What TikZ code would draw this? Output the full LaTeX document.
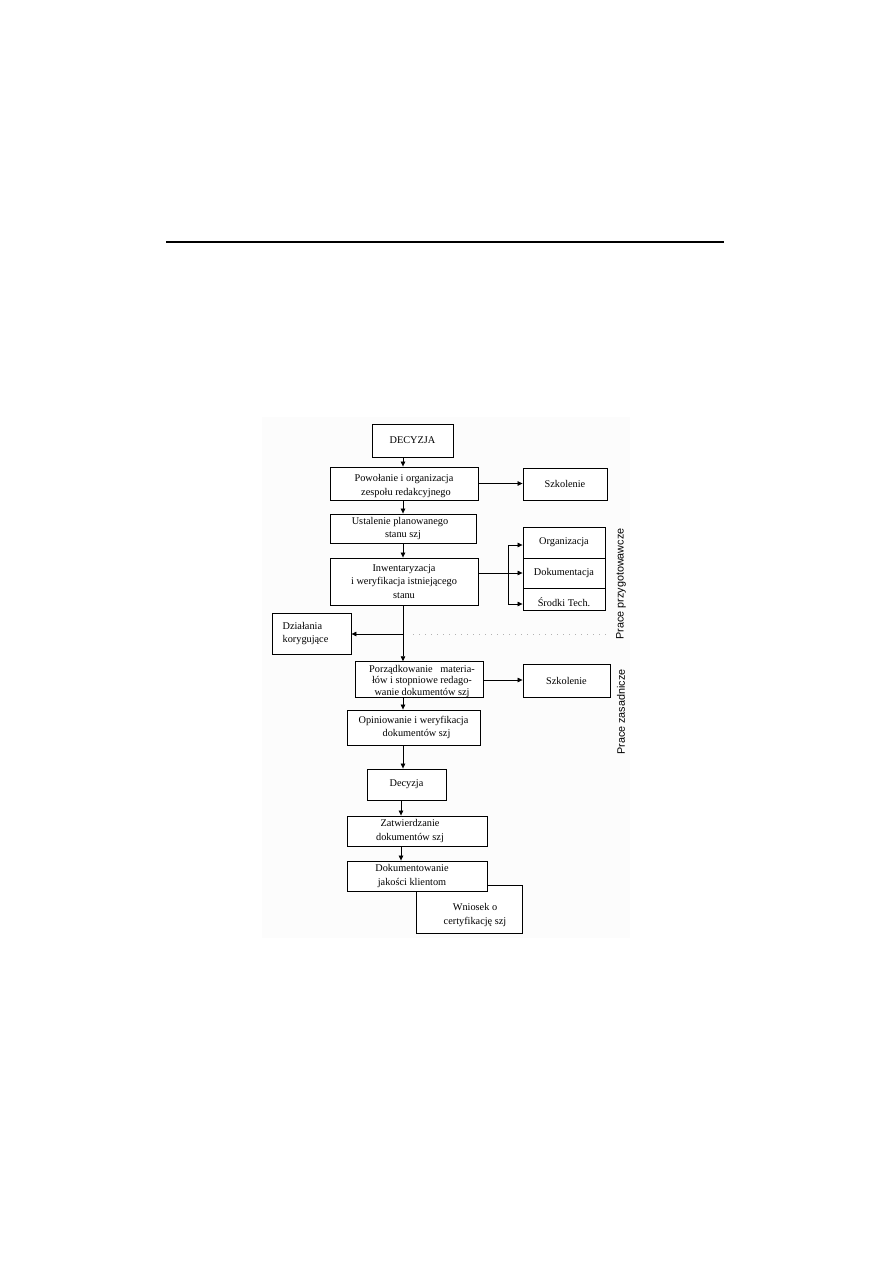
\documentclass[tikz,border=0pt]{standalone}
\usepackage{fontspec}
\setmainfont{Liberation Serif}
\setsansfont{Liberation Sans}
\usetikzlibrary{arrows.meta,calc}
\newcommand{\lowr}[1]{\rule{0pt}{#1}}
\begin{document}
\begin{tikzpicture}[x=1pt,y=-1pt,
  box/.style={draw,line width=0.9pt,rectangle,inner sep=0pt,fill=white,
    font=\fontsize{10.3}{13.8}\selectfont,align=center},
  arr/.style={line width=0.7pt,-{Triangle[length=5pt,width=4.5pt]}},
  ln/.style={line width=0.7pt},
  side/.style={font=\sffamily\fontsize{10.8}{12}\selectfont,rotate=90}]
\useasboundingbox (0,0) rectangle (893,1263);
\fill[black!1] (262,417) rectangle (630,938);
\draw[line width=1.3pt] (166,242) -- (724,242);
\coordinate (sp) at (403,0);
\coordinate (sp2) at (401,0);
% boxes
\node[box,minimum width=81pt,minimum height=33pt] (dec) at (412.5,440.5) {DECYZJA};
\node[box,minimum width=148pt,minimum height=33pt] (pow) at (404,483.5) {\lowr{13pt}Powołanie i organizacja\\\hspace*{4pt}zespołu redakcyjnego};
\node[box,minimum width=84pt,minimum height=32pt] (szk1) at (565,484) {Szkolenie};
\node[box,minimum width=146pt,minimum height=29pt] (ust) at (403,528.5) {\hspace*{-6pt}Ustalenie planowanego\\stanu szj};
\node[box,minimum width=148pt,minimum height=47pt] (inw) at (404,581.5) {Inwentaryzacja\\i weryfikacja istniejącego\\stanu};
\node[box,minimum width=82pt,minimum height=31pt] (org) at (564,542.5) {Organizacja};
\node[box,minimum width=82pt,minimum height=30pt] (dok) at (564,573) {Dokumentacja};
\node[box,minimum width=82pt,minimum height=22pt] (srt) at (564,599) {\lowr{15pt}Środki Tech.};
\node[box,minimum width=79pt,minimum height=41pt,align=left] (dz) at (311.5,633.5) {Działania\\korygujące\hspace*{12pt}};
\node[box,minimum width=128pt,minimum height=35pt,font=\fontsize{10.3}{11.2}\selectfont] (por) at (419,679.5) {\lowr{11pt}\hspace*{6pt}Porządkowanie\ \ \ materia-\\\hspace*{6pt}łów i stopniowe redago-\\\hspace*{6pt}wanie dokumentów szj};
\node[box,minimum width=87pt,minimum height=33pt] (szk2) at (566.5,680.5) {Szkolenie};
\node[box,minimum width=133pt,minimum height=35pt] (opi) at (413.5,727.5) {Opiniowanie i weryfikacja\\\hspace*{6pt}dokumentów szj};
\node[box,minimum width=79pt,minimum height=31pt] (dec2) at (406.5,784.5) {Decyzja};
\node[box,minimum width=140pt,minimum height=30pt] (zat) at (417,831) {Zatwierdzanie\hspace*{14pt}\\dokumentów szj\hspace*{14pt}};
\node[box,minimum width=106pt,minimum height=48pt] (wn) at (469,909) {\lowr{19pt}\hspace*{12pt}Wniosek o\\\hspace*{12pt}certyfikację szj};
\node[box,minimum width=140pt,minimum height=30pt] (dkm) at (417,876) {Dokumentowanie\hspace*{10pt}\\jakości klientom\hspace*{10pt}};
% side labels
\node[side] (lab1) at (621,584) {Prace przygotowawcze};
\node[side] (lab2) at (621,712) {Prace zasadnicze};
% spine connectors
\draw[arr] (dec.south -| sp) -- (pow.north -| sp);
\draw[arr] (pow.south -| sp) -- (ust.north -| sp);
\draw[arr] (ust.south -| sp) -- (inw.north -| sp);
\coordinate (br) at (403,634);
\coordinate (dotend) at (610,634);
\draw[ln] (inw.south -| sp) -- (br);
\draw[arr] (br) -- (por.north -| sp);
\draw[arr] (br) -- (dz.east |- br);
\draw[black!30,line width=0.5pt,dash pattern=on 1pt off 5pt] ($(br)+(10,0)$) -- (dotend);
\draw[arr] (por.south -| sp) -- (opi.north -| sp);
\draw[arr] (opi.south -| sp) -- (dec2.north -| sp);
\draw[arr] (dec2.south -| sp2) -- (zat.north -| sp2);
\draw[arr] (zat.south -| sp2) -- (dkm.north -| sp2);
% side connectors
\draw[arr] (pow.east) -- (szk1.west |- pow.east);
\coordinate (fork) at (508,573);
\draw[ln] (inw.east |- fork) -- (fork);
\draw[ln] (508,545) -- (508,604);
\draw[arr] (508,545) -- (org.west |- 0,545);
\draw[arr] (fork) -- (dok.west |- fork);
\draw[arr] (508,604) -- (srt.west |- 0,604);
\draw[arr] (por.east |- 0,680) -- (szk2.west |- 0,680);
\end{tikzpicture}
\end{document}
